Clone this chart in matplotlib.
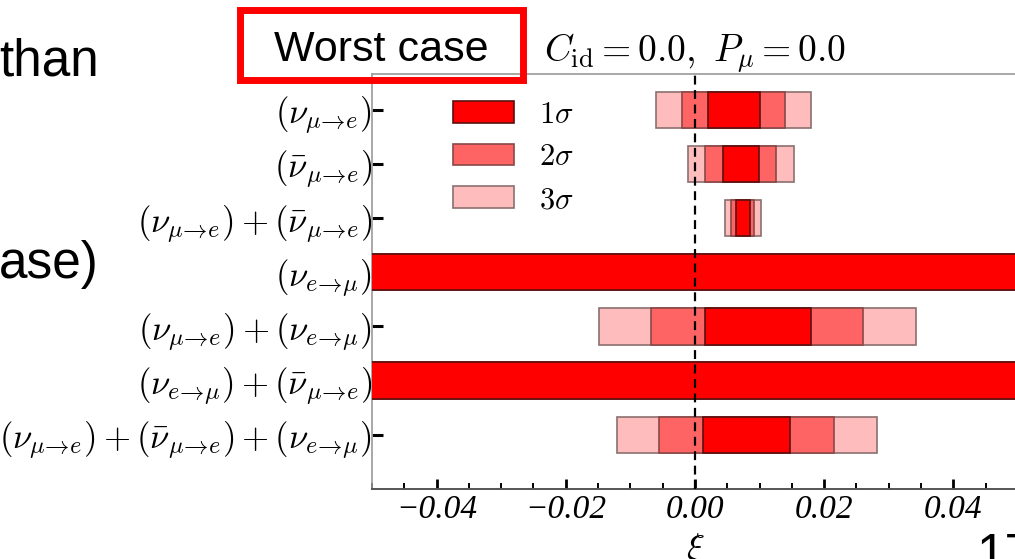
import matplotlib
matplotlib.use("Agg")
import matplotlib.pyplot as plt
from matplotlib.patches import Patch, Rectangle
import numpy as np

plt.rcParams['mathtext.fontset'] = 'cm'

# ---------------- data ----------------
categories = [
    r'$(\nu_{\mu\!\to\!e})$',
    r'$(\bar{\nu}_{\mu\!\to\!e})$',
    r'$(\nu_{\mu\!\to\!e})+(\bar{\nu}_{\mu\!\to\!e})$',
    r'$(\nu_{e\!\to\!\mu})$',
    r'$(\nu_{\mu\!\to\!e})+(\nu_{e\!\to\!\mu})$',
    r'$(\nu_{e\!\to\!\mu})+(\bar{\nu}_{\mu\!\to\!e})$',
    r'$(\nu_{\mu\!\to\!e})+(\bar{\nu}_{\mu\!\to\!e})+(\nu_{e\!\to\!\mu})$',
]
# interval bounds on xi (unconstrained rows use values beyond plot range)
lo1 = [0.0020, 0.0043, 0.0064, -0.10, 0.0015, -0.10, 0.0012]
hi1 = [0.0100, 0.0099, 0.0085, 0.10, 0.0179, 0.10, 0.0147]
lo2 = [-0.0020, 0.0016, 0.0056, -0.10, -0.0068, -0.10, -0.0055]
hi2 = [0.0140, 0.0126, 0.0092, 0.10, 0.0260, 0.10, 0.0215]
lo3 = [-0.0061, -0.0011, 0.0046, -0.10, -0.0149, -0.10, -0.0121]
hi3 = [0.0180, 0.0153, 0.0102, 0.10, 0.0342, 0.10, 0.0281]

sigma_labels = [r'$1\sigma$', r'$2\sigma$', r'$3\sigma$']
xticks = [-0.04, -0.02, 0.00, 0.02, 0.04]
xticklabels = ['\u22120.04', '\u22120.02', '0.00', '0.02', '0.04']
title = r'$C_{\rm id} = 0.0,\ P_\mu = 0.0$'

# ---------------- style ----------------
face = ['#ff0000', '#ff6464', '#ffbcbc']
edge = ['#5a1010', '#8a4848', '#8a7070']

W, H = 1015, 559
fig = plt.figure(figsize=(W / 100, H / 100), dpi=100)
ax = fig.add_axes([372 / W, (H - 489) / H, (1018 - 372) / W, (489 - 74) / H])

y = np.arange(len(categories))
lo = [lo1, lo2, lo3]
hi = [hi1, hi2, hi3]
for k in [2, 1, 0]:
    l = np.array(lo[k]); h = np.array(hi[k])
    ax.barh(y, h - l, left=l, height=0.67, color=face[k],
            edgecolor=edge[k], linewidth=1.2, zorder=2 + (2 - k))

ax.axvline(0.0, color='black', linestyle=(0, (4, 2.5)), linewidth=1.6, zorder=10)

ax.set_xlim(-0.05, 0.05)
ax.set_ylim(7.0, -0.66)
ax.set_yticks(y)
ax.set_yticklabels(categories, fontsize=25)
ax.set_xticks(xticks)
ax.set_xticklabels(xticklabels, fontsize=24, family='Liberation Serif', style='italic')
ax.set_xticks(np.arange(-0.05, 0.0501, 0.005), minor=True)
ax.tick_params(axis='y', direction='in', length=8, width=2.2, color='black', pad=0)
ax.tick_params(axis='x', which='major', direction='in', length=7, width=2.0, color='black', pad=4)
ax.tick_params(axis='x', which='minor', direction='in', length=4, width=1.4, color='black')
ax.tick_params(axis='y', which='minor', left=False)

for s in ['left', 'top', 'right']:
    ax.spines[s].set_color('#9a9a9a')
    ax.spines[s].set_linewidth(1.2)
ax.spines['bottom'].set_color('#555555')
ax.spines['bottom'].set_linewidth(1.4)

ax.set_title(title, fontsize=27, pad=2)
ax.set_xlabel(r'$\xi$', fontsize=27, labelpad=4)

handles = [Patch(facecolor=face[k], edgecolor=edge[k], linewidth=1.2) for k in range(3)]
ax.legend(handles, sigma_labels, loc='upper left', bbox_to_anchor=(0.107, 0.968),
          frameon=False, fontsize=22, handlelength=2.0, handleheight=0.72,
          handletextpad=0.8, labelspacing=0.45, borderaxespad=0.0)

# slide overlay texts
fig.text(-0.001, (H - 75) / H, 'than', fontsize=37, family='Liberation Sans',
         ha='left', va='baseline')
fig.text(-0.001, (H - 278) / H, 'ase)', fontsize=37, family='Liberation Sans',
         ha='left', va='baseline')
fig.text(976 / W, (H - 570) / H, '17', fontsize=37, family='Liberation Sans',
         ha='left', va='baseline')
fig.text(381.7 / W, (H - 61) / H, 'Worst case', fontsize=31, family='Liberation Sans',
         ha='center', va='baseline')
fig.add_artist(Rectangle((240.3 / W, (H - 79.7) / H), (523 - 240.3) / W, (79.7 - 10.3) / H,
                         transform=fig.transFigure, fill=False, edgecolor='#ff0000',
                         linewidth=5, zorder=20))

fig.savefig('out.png', dpi=100)
